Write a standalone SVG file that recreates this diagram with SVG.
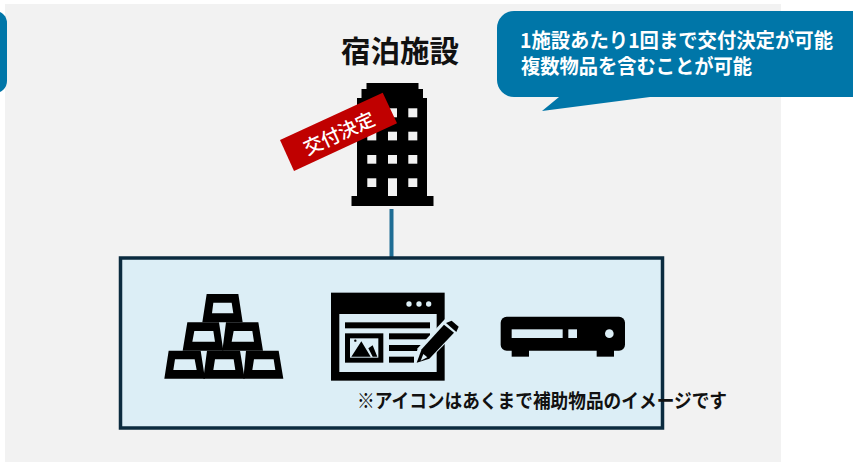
<svg xmlns="http://www.w3.org/2000/svg" width="853" height="462" viewBox="0 0 853 462">
<style>
text{font-family:"Noto Sans CJK JP","Noto Sans",sans-serif;font-weight:700}
.blue{fill:#0076a8}
.k{fill:#000}
.l{fill:#dceef6}
.w{fill:#f2f2f2}
.bt{fill:#fff;font-size:20px}
</style>
<rect width="853" height="462" fill="#fff"/>
<rect x="5" y="4" width="776" height="458" fill="#f2f2f2"/>
<g id="connectors"><line x1="391.5" y1="209" x2="391.5" y2="258" stroke="#1f6d94" stroke-width="4"/></g>
<g id="left-callout"><rect x="-40" y="11" width="47" height="82" rx="12" class="blue"/></g>
<g id="callout">
<path class="blue" d="M853 11H514a17 17 0 0 0-17 17V80a17 17 0 0 0 17 17H559L542 111 650 97H853Z"/>
<text class="bt" x="520" y="47.500" textLength="313" lengthAdjust="spacingAndGlyphs">1施設あたり1回まで交付決定が可能</text>
<text class="bt" x="521" y="73.500" textLength="231" lengthAdjust="spacingAndGlyphs">複数物品を含むことが可能</text>
</g>
<g id="facility">
<text x="400" y="61.500" text-anchor="middle" font-size="29.500" fill="#111">宿泊施設</text>
<path class="k" d="M366.500 83H418.500V89H423V98H427V196H433.500V206H351.500V196H357V98H361.500V89H366.500Z"/>
<g class="w">
<rect x="367.300" y="108.300" width="9" height="9"/><rect x="388" y="108.300" width="9" height="9"/><rect x="408.300" y="108.300" width="9" height="9"/>
<rect x="367.300" y="131.700" width="9" height="8.700"/><rect x="388" y="131.700" width="9" height="8.700"/><rect x="408.300" y="131.700" width="9" height="8.700"/>
<rect x="367.300" y="155" width="9" height="8.700"/><rect x="388" y="155" width="9" height="8.700"/><rect x="408.300" y="155" width="9" height="8.700"/>
<rect x="367.300" y="178.300" width="9" height="8.700"/><rect x="388" y="178.300" width="9" height="17.700"/><rect x="408.300" y="178.300" width="9" height="8.700"/>
</g>
</g>
<g id="decision-tag">
<polygon points="280,140 382.700,92.700 397,123.300 294,171" fill="#c00000"/>
<text x="338.500" y="132" transform="rotate(-24.700 338.500 132)" text-anchor="middle" dominant-baseline="central" font-size="19" fill="#fff" style="font-weight:500">交付決定</text>
</g>
<g id="items">
<rect x="120.500" y="258" width="542" height="170" fill="#dceef6" stroke="#0b2b3f" stroke-width="3.500"/>
<g id="gold" transform="translate(150 280) scale(.33333)">
<path class="k" fill-rule="evenodd" d="M170 42H265L278 127H157ZM190 68L186 100H250L245 68Z"/>
<path class="k" fill-rule="evenodd" d="M112 127H207L220 212H98ZM133 153L127 185H195L190 153Z"/>
<path class="k" fill-rule="evenodd" d="M228 127H325L339 212H217ZM251 153L245 185H312L307 153Z"/>
<path class="k" fill-rule="evenodd" d="M56 212H152L165 296H43ZM75 238L70 270H140L134 238Z"/>
<path class="k" fill-rule="evenodd" d="M171 212H270L284 296H160ZM195 238L190 270H256L251 238Z"/>
<path class="k" fill-rule="evenodd" d="M288 212H386L400 296H280ZM312 238L307 270H376L371 238Z"/>
</g>
<g id="document" transform="translate(150 280) scale(.33333)">
<rect class="k" x="543" y="38" width="341" height="264"/>
<rect class="l" x="568" y="102" width="292" height="174"/>
<circle class="l" cx="777" cy="72" r="8"/><circle class="l" cx="807" cy="72" r="8"/><circle class="l" cx="836" cy="72" r="8"/>
<rect class="k" x="585" y="127" width="255" height="18"/>
<rect class="k" x="585" y="160" width="115" height="88"/>
<rect class="l" x="600" y="175" width="85" height="58"/>
<path class="k" d="M604 230L634 184L662 230ZM655 205L668 196L682 230H668Z"/>
<circle class="k" cx="616" cy="182" r="3.500"/>
<rect class="k" x="717" y="160" width="123" height="18"/>
<rect class="k" x="717" y="195" width="100" height="18"/>
<rect class="k" x="717" y="230" width="75" height="18"/>
<path class="l" d="M790 258L803 205L890 112L935 140L828 250Z"/>
<path class="k" d="M800 248L815 208L882 134L912 158L838 236Z"/>
<path class="k" d="M888 129L905 122L926 140L919 156Z"/>
<path class="l" d="M812 242L820 222L832 232Z"/>
</g>
<g id="player" transform="translate(480 300) scale(.33333)">
<rect class="k" x="62" y="50" width="373" height="102" rx="18"/>
<rect class="k" x="95" y="150" width="52" height="20"/>
<rect class="k" x="350" y="150" width="52" height="20"/>
<rect class="l" x="95" y="88" width="153" height="26"/>
<rect class="l" x="265" y="88" width="26" height="26"/>
<circle class="l" cx="388" cy="101" r="13"/>
</g>
</g>
<text x="357" y="407.500" font-size="19.500" textLength="370" lengthAdjust="spacingAndGlyphs" fill="#111">※アイコンはあくまで補助物品のイメージです</text>
</svg>
